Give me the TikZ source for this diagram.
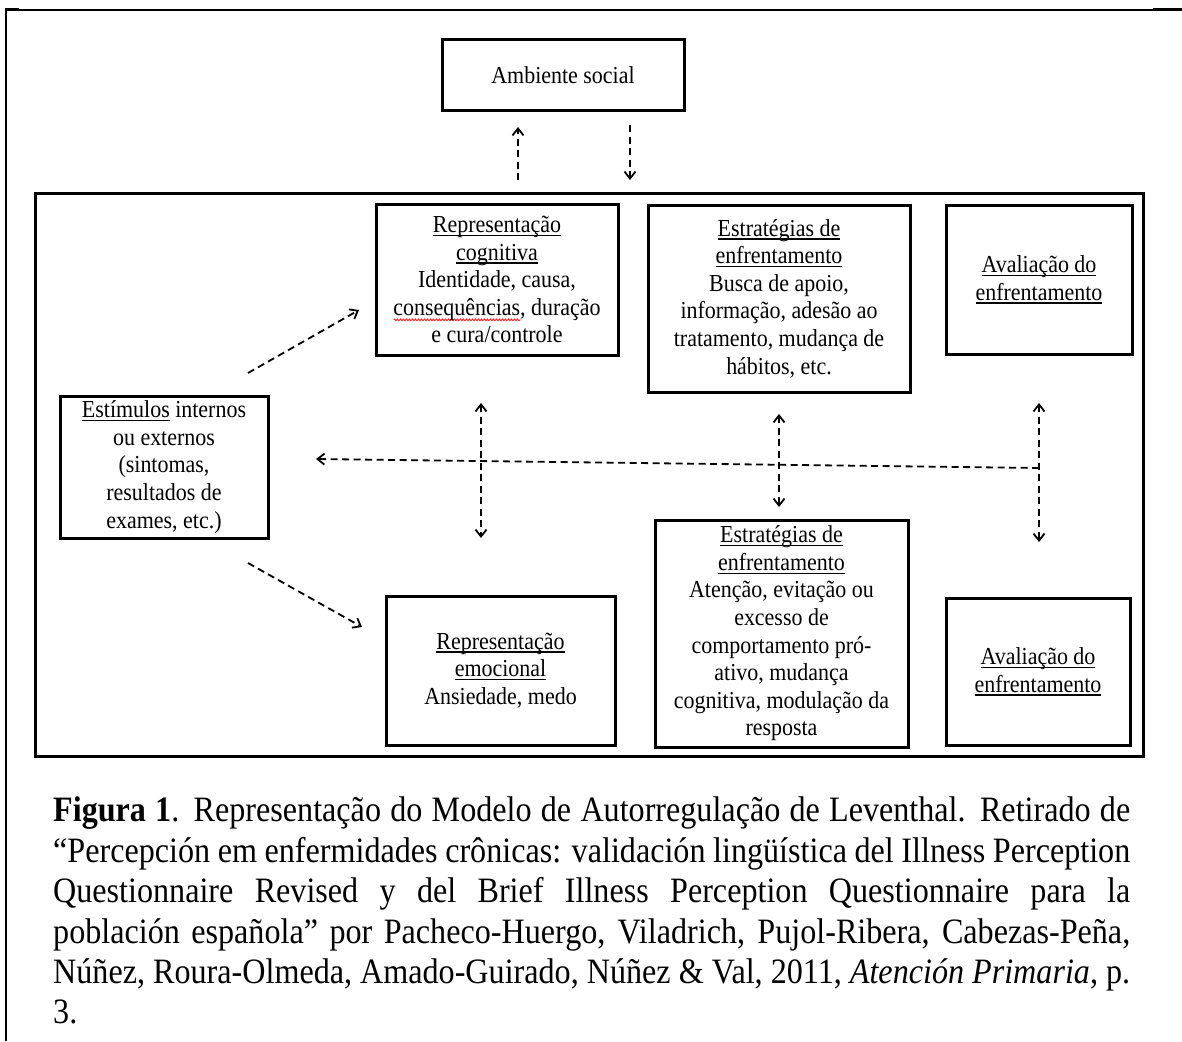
\documentclass[tikz,border=0pt]{standalone}
\usepackage{fontspec}
\setmainfont{Liberation Serif}[FakeStretch=0.9]
\usepackage{tikz}
\usetikzlibrary{arrows.meta,decorations.pathmorphing}
\newcommand\sublinha[1]{\setbox0\hbox{#1}\rlap{\rule[-3.5pt]{\wd0}{1.3pt}}\box0\relax}
\newcommand\ondared[1]{\setbox0\hbox{#1}\rlap{\raisebox{-6pt}{\tikz[x=1cm,y=1cm]\draw[red, line width=0.7pt, decorate, decoration={zigzag, segment length=3pt, amplitude=1pt}] (0,0) -- (\wd0,0);}}\box0\relax}
\newcommand\fontediag{\fontsize{24.4}{27.6}\selectfont}
\newcommand\fontelegenda{\fontsize{35.7}{40.4}\selectfont}
\tikzstyle{caixa}=[
        draw,
        line width=3pt,
        align=center,
        inner sep=0pt,
        font=\fontediag
]
\tikzstyle{seta}=[
        line width=1.8pt,
        dash pattern=on 7pt off 4.5pt,
        -{Straight Barb[length=7pt,width=11pt,line width=1.8pt]}
]
\tikzstyle{setadupla}=[
        seta,
        {Straight Barb[length=7pt,width=11pt,line width=1.8pt]}-{Straight Barb[length=7pt,width=11pt,line width=1.8pt]}
]

\begin{document}
\begin{tikzpicture}[x=1pt,y=-1pt]
                        \useasboundingbox (0,0) rectangle (1182,1041);

                        % margem da pagina
                        \draw[line width=1.5pt] (5,10) -- (1182,10);
                        \draw[line width=3pt] (5,10) -- (19,10);
                        \draw[line width=3pt] (1153,10) -- (1182,10);
                        \draw[line width=2.5pt] (6,9) -- (6,1041);

                        % quadro do modelo
                        \draw[line width=3pt] (35,193) rectangle (1143,756);

                        \node[caixa, minimum width=242, minimum height=70] (ambiente) at (563,75) {Ambiente social};

                        \node[caixa, minimum width=242, minimum height=151] (repcog) at (497,279.5)
                            {\sublinha{Representação}\\ \sublinha{cognitiva}\\ Identidade, causa,\\ \ondared{consequências}, duração\\ e cura/controle};
                        \node[caixa, minimum width=262, minimum height=187] (estrsup) at (779,298.5)
                            {\sublinha{Estratégias de}\\ \sublinha{enfrentamento}\\ Busca de apoio,\\ informação, adesão ao\\ tratamento, mudança de\\ hábitos, etc.};
                        \node[caixa, minimum width=186, minimum height=149] (avalsup) at (1039,279.5)
                            {\sublinha{Avaliação do}\\ \sublinha{enfrentamento}};

                        \node[caixa, minimum width=208, minimum height=142] (estim) at (164,467)
                            {\sublinha{Estímulos} internos\\ ou externos\\ (sintomas,\\ resultados de\\ exames, etc.)};

                        \node[caixa, minimum width=229, minimum height=149] (repemo) at (500.5,670.5)
                            {\sublinha{Representação}\\ \sublinha{emocional}\\ Ansiedade, medo};
                        \node[caixa, minimum width=253, minimum height=227] (estrinf) at (781.5,633.5)
                            {\sublinha{Estratégias de}\\ \sublinha{enfrentamento}\\ Atenção, evitação ou\\ excesso de\\ comportamento pró-\\ ativo, mudança\\ cognitiva, modulação da\\ resposta};
                        \node[caixa, minimum width=184, minimum height=147] (avalinf) at (1038,671.5)
                            {\sublinha{Avaliação do}\\ \sublinha{enfrentamento}};

                        % pontas livres das setas
                        \coordinate (amb1) at (518,180);
                        \coordinate (amb2) at (518,127);
                        \coordinate (amb3) at (630,125);
                        \coordinate (amb4) at (630,180);
                        \coordinate (cog1) at (248,373);
                        \coordinate (cog2) at (359,310);
                        \coordinate (emo1) at (248,563);
                        \coordinate (emo2) at (362,627);
                        \coordinate (rep1) at (481,403);
                        \coordinate (rep2) at (481,538);
                        \coordinate (est1) at (779,414);
                        \coordinate (est2) at (779,507);
                        \coordinate (ava1) at (1039,403);
                        \coordinate (ava2) at (1039,542);
                        \coordinate (ret1) at (1039,468);
                        \coordinate (ret2) at (316,459);

                        \draw[seta] (amb1) -- (amb2);
                        \draw[seta] (amb3) -- (amb4);
                        \draw[seta] (cog1) -- (cog2);
                        \draw[seta] (emo1) -- (emo2);
                        \draw[setadupla] (rep1) -- (rep2);
                        \draw[setadupla] (est1) -- (est2);
                        \draw[setadupla] (ava1) -- (ava2);
                        \draw[seta] (ret1) -- (ret2);

                        % legenda
                        \node[anchor=north west, text width=1077, align=justify, inner sep=0pt, font=\fontelegenda] (legenda) at (53,797)
                            {\textbf{Figura 1}. Representação do Modelo de Autorregulação de Leventhal. Retirado de\linebreak
                            “Percepción em enfermidades crônicas: validación lingüística del Illness Perception\linebreak
                            Questionnaire Revised y del Brief Illness Perception Questionnaire para la\linebreak
                            población española” por Pacheco-Huergo, Viladrich, Pujol-Ribera, Cabezas-Peña,\linebreak
                            Núñez, Roura-Olmeda, Amado-Guirado, Núñez \& Val, 2011, \textit{Atención Primaria}, p.\linebreak
                            3.};
                    \end{tikzpicture}
\end{document}
